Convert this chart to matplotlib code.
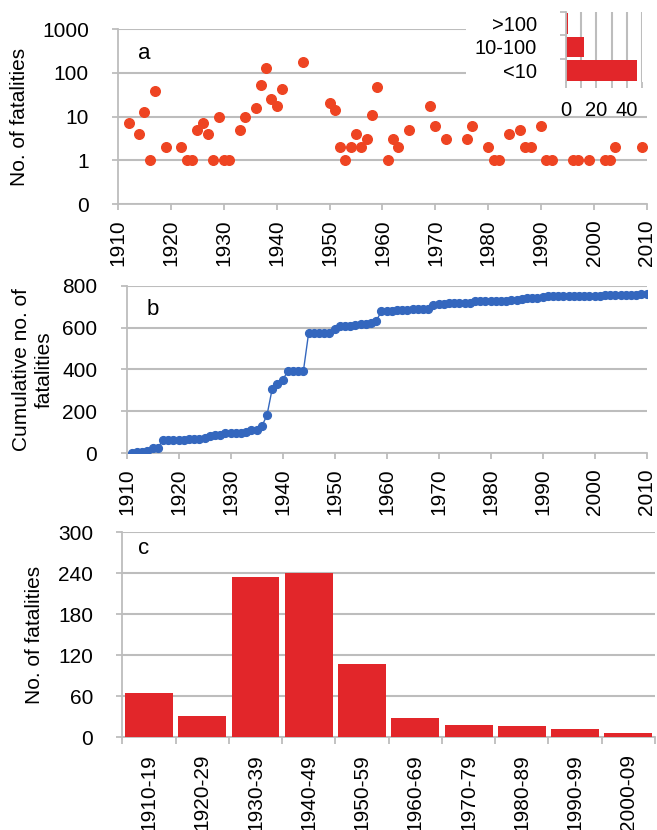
import numpy as np
import matplotlib
matplotlib.use("Agg")
import matplotlib.pyplot as plt
from matplotlib.patches import Rectangle

plt.rcParams['font.family'] = ['Liberation Sans', 'DejaVu Sans']

# annual fatalities (years with at least one death)
years = [1912, 1914, 1915, 1916, 1917, 1919,
         1922, 1923, 1924, 1925, 1926, 1927, 1928, 1929,
         1930, 1931, 1933, 1934, 1936, 1937, 1938, 1939,
         1940, 1941, 1945,
         1950, 1951, 1952, 1953, 1954, 1955, 1956, 1957, 1958, 1959,
         1961, 1962, 1963, 1965, 1969,
         1970, 1972, 1976, 1977,
         1980, 1981, 1982, 1984, 1986, 1987, 1988,
         1990, 1991, 1992, 1996, 1997, 1999,
         2002, 2003, 2004, 2009]
deaths = [7, 4, 13, 1, 38, 2,
          2, 1, 1, 5, 7, 4, 1, 10,
          1, 1, 5, 10, 16, 52, 126, 25,
          17, 43, 180,
          20, 14, 2, 1, 2, 4, 2, 3, 11, 48,
          1, 3, 2, 5, 17,
          6, 3, 3, 6,
          2, 1, 1, 4, 5, 2, 2,
          6, 1, 1, 1, 1, 1,
          1, 1, 2, 2]

# number of events per size class (inset)
size_classes = ['<10', '10-100', '>100']
class_counts = [47, 12, 1]

# decade totals
decades = ['1910-19', '1920-29', '1930-39', '1940-49', '1950-59',
           '1960-69', '1970-79', '1980-89', '1990-99', '2000-09']
decade_totals = [65, 31, 234, 240, 107, 28, 18, 17, 12, 6]

all_years = np.arange(1911, 2011)
annual = np.zeros(len(all_years))
for y, d in zip(years, deaths):
    annual[y - 1911] = d
cumulative = np.cumsum(annual)

W, H = 657, 830
fig = plt.figure(figsize=(W / 100, H / 100), dpi=100)
FS = 15
GRID = '#BDBDBD'
RED = '#E2262A'
ORANGE = '#EE4422'
BLUE = '#3467BE'


def px_axes(left, top, right, bottom):
    return fig.add_axes([left / W, 1 - bottom / H, (right - left) / W, (bottom - top) / H])


def style(ax):
    for s in ['top', 'right']:
        ax.spines[s].set_visible(False)
    for s in ['left', 'bottom']:
        ax.spines[s].set_color(GRID)
        ax.spines[s].set_linewidth(1.3)
    ax.tick_params(colors=GRID, width=1.3, length=4, labelcolor='black', labelsize=FS)
    ax.tick_params(axis='y', pad=17)
    ax.yaxis.grid(True, color=GRID, linewidth=1.5)
    ax.set_axisbelow(True)


# ---- a: annual fatalities, log scale ----
ax1 = px_axes(118, 29, 647, 204)
style(ax1)
ax1.scatter(years, deaths, s=48, color=ORANGE, zorder=3)
ax1.set_yscale('log')
ax1.set_ylim(0.1, 1000)
ax1.set_yticks([0.1, 1, 10, 100, 1000])
ax1.set_yticklabels(['0', '1', '10', '100', '1000'])
ax1.yaxis.set_minor_locator(matplotlib.ticker.NullLocator())
ax1.set_xlim(1910, 2010)
ax1.set_xticks(range(1910, 2011, 10))
ax1.tick_params(axis='x', labelrotation=90, pad=7)
ax1.text(0.05, 0.86, 'a', transform=ax1.transAxes, fontsize=16, ha='center', va='center')
fig.text(20 / W, 1 - 117 / H, 'No. of fatalities', rotation=90, ha='center', va='center', fontsize=FS)

# white box behind the inset
ax1.add_patch(Rectangle((466 / W, 1 - 112 / H), (W - 466) / W, 112 / H, transform=fig.transFigure,
                        facecolor='white', edgecolor='none', zorder=5, clip_on=False))

# ---- inset: events per size class ----
axi = px_axes(566, 12, 642, 82)
axi.barh(range(3), class_counts, height=0.88, color=RED)
axi.set_ylim(-0.5, 2.5)
axi.set_xlim(0, 50)
axi.set_yticks(range(3))
axi.set_yticklabels(size_classes)
axi.set_yticks([0.5, 1.5, 2.5], minor=True)
axi.tick_params(axis='y', which='major', length=0, pad=21, labelsize=FS - 0.5)
axi.tick_params(axis='y', which='minor', length=4, color=GRID, width=1.3)
axi.set_xticks(range(0, 51, 10))
axi.set_xticklabels(['0', '', '20', '', '40', ''])
axi.tick_params(axis='x', length=4, color=GRID, width=1.3, pad=10, labelsize=FS - 0.5)
axi.xaxis.grid(True, color=GRID, linewidth=1.5)
axi.set_axisbelow(True)
for s in ['top', 'right', 'bottom']:
    axi.spines[s].set_visible(False)
axi.spines['left'].set_color(GRID)
axi.spines['left'].set_linewidth(1.3)

# ---- b: cumulative fatalities ----
ax2 = px_axes(126.5, 285.7, 646.7, 453.3)
style(ax2)
ax2.plot(all_years, cumulative, color=BLUE, linewidth=1, marker='o', markersize=5.6, zorder=3)
ax2.set_ylim(0, 800)
ax2.set_yticks(range(0, 801, 200))
ax2.set_xlim(1910, 2010)
ax2.set_xticks(range(1910, 2011, 10))
ax2.tick_params(axis='x', labelrotation=90, pad=7)
ax2.text(0.05, 0.86, 'b', transform=ax2.transAxes, fontsize=16, ha='center', va='center')
fig.text(33 / W, 1 - 370 / H, 'Cumulative no. of\nfatalities', rotation=90, ha='center', va='center',
         fontsize=FS, linespacing=1.2)

# ---- c: fatalities per decade ----
ax3 = px_axes(122.3, 532.3, 655, 737.3)
style(ax3)
pos = np.arange(len(decades))
ax3.bar(pos, decade_totals, width=0.9, color=RED, zorder=3)
ax3.set_xlim(-0.5, len(decades) - 0.5)
ax3.set_ylim(0, 300)
ax3.set_yticks(range(0, 301, 60))
ax3.set_xticks(pos)
ax3.set_xticklabels(decades, rotation=90)
ax3.set_xticks(np.arange(-0.5, len(decades)), minor=True)
ax3.tick_params(axis='x', which='major', length=0, pad=12)
ax3.tick_params(axis='x', which='minor', length=5, color=GRID, width=1.3)
ax3.text(0.04, 0.92, 'c', transform=ax3.transAxes, fontsize=16, ha='center', va='center')
fig.text(35 / W, 1 - 635 / H, 'No. of fatalities', rotation=90, ha='center', va='center', fontsize=FS)

fig.savefig('out.png', dpi=100)
